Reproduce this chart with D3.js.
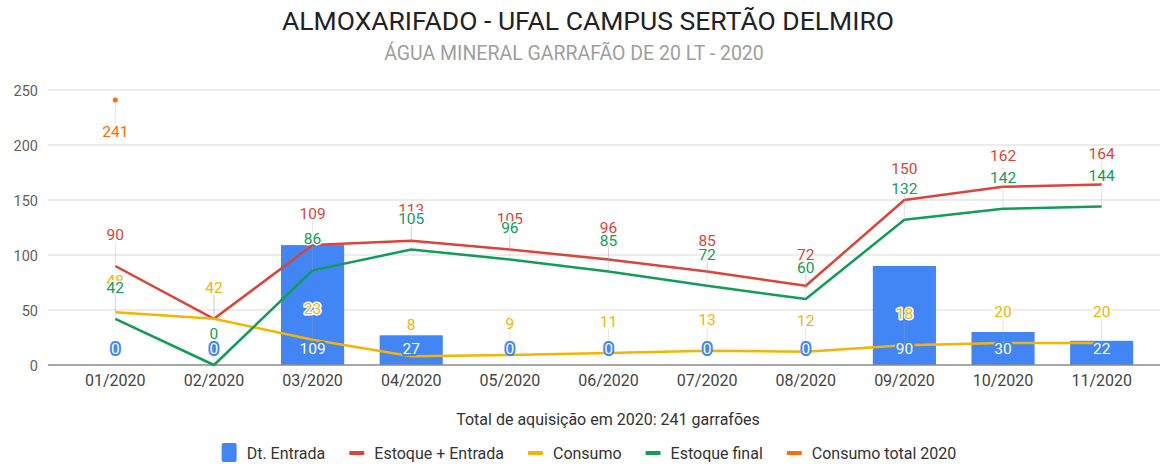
<!DOCTYPE html>
<html>
<head>
<meta charset="utf-8">
<script src="https://cdn.jsdelivr.net/npm/d3@7"></script>
<style>
  body { margin: 0; background: #fff; }
  svg { font-family: Roboto, "Noto Sans", sans-serif; }
</style>
</head>
<body>
<svg id="chart" width="1160" height="464"></svg>
<script>
// Dados
const meses = ["01/2020","02/2020","03/2020","04/2020","05/2020","06/2020","07/2020","08/2020","09/2020","10/2020","11/2020"];
const dtEntrada = [0, 0, 109, 27, 0, 0, 0, 0, 90, 30, 22];
const estoqueEntrada = [90, 42, 109, 113, 105, 96, 85, 72, 150, 162, 164];
const consumo = [48, 42, 23, 8, 9, 11, 13, 12, 18, 20, 20];
const estoqueFinal = [42, 0, 86, 105, 96, 85, 72, 60, 132, 142, 144];
const consumoTotal = [241, null, null, null, null, null, null, null, null, null, null];
const yTicks = [0, 50, 100, 150, 200, 250];

const titulo = "ALMOXARIFADO - UFAL CAMPUS SERTÃO DELMIRO";
const subtitulo = "ÁGUA MINERAL GARRAFÃO DE 20 LT - 2020";
const tituloEixoX = "Total de aquisição em 2020: 241 garrafões";

const cores = {
    entrada: "#4285f4",
    estoqueEntrada: "#db4437",
    consumo: "#f4b400",
    estoqueFinal: "#0f9d58",
    total: "#ff6d00"
};

const svg = d3.select("#chart");
const area = { left: 48, right: 1168, top: 90, bottom: 365 };

var x = d3.scaleBand().domain(meses)
    .range([66, 1151])
    .paddingInner(0.36)
    .paddingOuter(0.18);
var y = d3.scaleLinear().domain([0, 250]).range([area.bottom, area.top]);
var cx = m => x(m) + x.bandwidth() / 2;

// titulos
svg.append("text")
    .attr("x", 588).attr("y", 30)
    .attr("text-anchor", "middle")
    .attr("font-size", 26.5)
    .attr("fill", "#222")
    .text(titulo);
svg.append("text")
    .attr("x", 574).attr("y", 60)
    .attr("text-anchor", "middle")
    .attr("font-size", 19.5)
    .attr("fill", "#9e9e9e")
    .text(subtitulo);

// grade e eixo Y
var grade = svg.append("g");
grade.selectAll("line")
    .data(yTicks.filter(t => t > 0))
    .enter().append("line")
    .attr("x1", area.left).attr("x2", area.right)
    .attr("y1", d => y(d)).attr("y2", d => y(d))
    .attr("stroke", "#d9d9d9").attr("stroke-width", 1);

var yAxis = d3.axisLeft(y).tickValues(yTicks).tickSize(0).tickPadding(0);
svg.append("g")
    .attr("transform", `translate(38,0)`)
    .call(yAxis)
    .call(g => g.select(".domain").remove())
    .selectAll("text")
    .attr("font-family", "Roboto, sans-serif")
    .attr("font-size", 14.5)
    .attr("fill", "#5f5f5f")
    .attr("dy", "0.35em");

// barras
svg.append("g").selectAll("rect")
    .data(meses)
    .enter().append("rect")
    .attr("x", d => x(d))
    .attr("y", (d, i) => y(dtEntrada[i]))
    .attr("width", x.bandwidth())
    .attr("height", (d, i) => area.bottom - y(dtEntrada[i]))
    .attr("fill", cores.entrada);

// linha de base
svg.append("line")
    .attr("x1", area.left).attr("x2", area.right)
    .attr("y1", area.bottom).attr("y2", area.bottom)
    .attr("stroke", "#8a8a8a").attr("stroke-width", 1.5);

// eixo X
var xAxis = d3.axisBottom(x).tickSize(0).tickPadding(0);
svg.append("g")
    .attr("transform", `translate(0,${area.bottom})`)
    .call(xAxis)
    .call(g => g.select(".domain").remove())
    .selectAll("text")
    .attr("font-family", "Roboto, sans-serif")
    .attr("font-size", 16)
    .attr("fill", "#444")
    .attr("dy", null)
    .attr("y", 21);

svg.append("text")
    .attr("x", 608).attr("y", 425)
    .attr("text-anchor", "middle")
    .attr("font-size", 16)
    .attr("fill", "#333")
    .text(tituloEixoX);

// series de linhas
var series = [
    { nome: "Estoque + Entrada", valores: estoqueEntrada, cor: cores.estoqueEntrada },
    { nome: "Consumo", valores: consumo, cor: cores.consumo },
    { nome: "Estoque final", valores: estoqueFinal, cor: cores.estoqueFinal }
];

var linha = d3.line()
    .defined(d => d.v != null)
    .x(d => cx(d.m))
    .y(d => y(d.v));

series.forEach(s => {
    svg.append("path")
        .datum(meses.map((m, i) => ({ m: m, v: s.valores[i] })))
        .attr("d", linha)
        .attr("fill", "none")
        .attr("stroke", s.cor)
        .attr("stroke-width", 2.5)
        .attr("stroke-linejoin", "round");
});

// ponto do consumo total
var pontosTotal = meses.map((m, i) => ({ m: m, v: consumoTotal[i] })).filter(d => d.v != null);
svg.append("g").selectAll("circle")
    .data(pontosTotal)
    .enter().append("circle")
    .attr("cx", d => cx(d.m))
    .attr("cy", d => y(d.v))
    .attr("r", 2.5)
    .attr("fill", cores.total);

// hastes das anotacoes
var hastes = svg.append("g").attr("stroke", "#aaa").attr("stroke-opacity", 0.3);
series.forEach(s => {
    meses.forEach((m, i) => {
        hastes.append("line")
            .attr("x1", cx(m)).attr("x2", cx(m))
            .attr("y1", y(s.valores[i])).attr("y2", y(s.valores[i]) - 24);
    });
});
pontosTotal.forEach(d => {
    hastes.append("line")
        .attr("x1", cx(d.m)).attr("x2", cx(d.m))
        .attr("y1", y(d.v)).attr("y2", y(d.v) + 24);
});

// anotacoes das barras
svg.append("g").selectAll("text")
    .data(meses)
    .enter().append("text")
    .attr("x", d => cx(d))
    .attr("y", area.bottom - 11)
    .attr("text-anchor", "middle")
    .attr("font-size", 15.5)
    .attr("fill", "#fff")
    .attr("stroke", cores.entrada)
    .attr("stroke-width", 4)
    .attr("stroke-linejoin", "round")
    .attr("paint-order", "stroke")
    .text((d, i) => dtEntrada[i]);

// anotacoes das linhas
series.forEach(s => {
    svg.append("g").selectAll("text")
        .data(meses)
        .enter().append("text")
        .attr("x", d => cx(d))
        .attr("y", (d, i) => y(s.valores[i]) - 26)
        .attr("text-anchor", "middle")
        .attr("font-size", 15.5)
        .attr("fill", s.cor)
        .attr("stroke", "#fff")
        .attr("stroke-width", 3)
        .attr("stroke-linejoin", "round")
        .attr("paint-order", "stroke")
        .text((d, i) => s.valores[i]);
});

svg.append("g").selectAll("text")
    .data(pontosTotal)
    .enter().append("text")
    .attr("x", d => cx(d.m))
    .attr("y", d => y(d.v) + 37)
    .attr("text-anchor", "middle")
    .attr("font-size", 15.5)
    .attr("fill", cores.total)
    .attr("stroke", "#fff")
    .attr("stroke-width", 3)
    .attr("paint-order", "stroke")
    .text(d => d.v);

// legenda
var itensLegenda = [
    { nome: "Dt. Entrada", cor: cores.entrada, tipo: "barra" },
    { nome: "Estoque + Entrada", cor: cores.estoqueEntrada, tipo: "linha" },
    { nome: "Consumo", cor: cores.consumo, tipo: "linha" },
    { nome: "Estoque final", cor: cores.estoqueFinal, tipo: "linha" },
    { nome: "Consumo total 2020", cor: cores.total, tipo: "linha" }
];

var legenda = svg.append("g");
var posX = 0;
itensLegenda.forEach((it, i) => {
    var g = legenda.append("g").attr("transform", `translate(${posX},0)`);
    if (it.tipo === "barra") {
        g.append("rect").attr("x", 0).attr("y", -10).attr("width", 15).attr("height", 19)
            .attr("rx", 2).attr("fill", it.cor);
    } else {
        g.append("rect").attr("x", 0).attr("y", -2).attr("width", 15).attr("height", 4)
            .attr("rx", 1).attr("fill", it.cor);
    }
    var t = g.append("text")
        .attr("x", 25).attr("y", 5.5)
        .attr("font-size", 16)
        .attr("fill", "#333")
        .text(it.nome);
    posX += 25 + t.node().getComputedTextLength() + 24;
});
var larguraLegenda = posX - 24;
legenda.attr("transform", `translate(${589 - larguraLegenda / 2},453)`);
</script>
</body>
</html>
